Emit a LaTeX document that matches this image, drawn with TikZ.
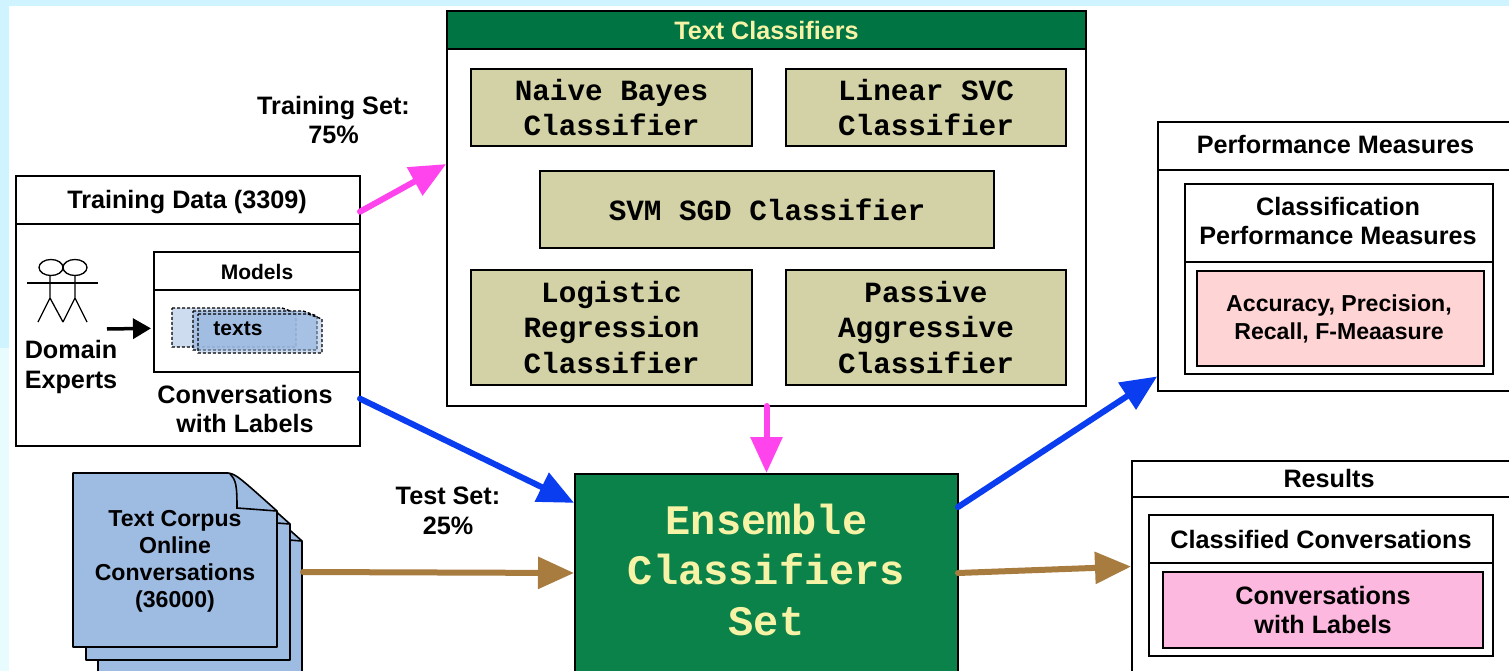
\documentclass[tikz,border=0pt]{standalone}
\usepackage{fontspec}
\setmainfont{Liberation Sans}
\setmonofont{Liberation Mono}
\usetikzlibrary{arrows.meta,shapes.geometric,positioning}
\definecolor{skyband}{HTML}{D0F4FF}
\definecolor{skypale}{HTML}{E8FBFF}
\definecolor{headgreen}{HTML}{007443}
\definecolor{ensgreen}{HTML}{0B8249}
\definecolor{paleyellow}{HTML}{F6F3A6}
\definecolor{khaki}{HTML}{D3D2A6}
\definecolor{paleblue}{HTML}{9EBBE2}
\definecolor{palered}{HTML}{FFD4D4}
\definecolor{palepink}{HTML}{FDB8DF}
\definecolor{arrowmag}{HTML}{FF44EE}
\definecolor{arrowblue}{HTML}{0A3CF0}
\definecolor{arrowbrown}{HTML}{A87C3E}
\begin{document}
\begin{tikzpicture}[x=1pt,y=-1pt,line width=1.6pt,
  every node/.style={inner sep=0pt,outer sep=0pt,align=center},
  frame/.style={draw,minimum width=#1,fill=white},
  sanslabel/.style={font=\fontsize{25.2}{29.5}\selectfont\bfseries},
  smalllabel/.style={font=\fontsize{21}{25}\selectfont\bfseries},
  clsbox/.style={draw,fill=khaki,font=\fontsize{29.3}{35.5}\selectfont\ttfamily\bfseries},
  flow/.style={line width=6pt,line cap=round,-{Triangle[length=36pt,width=31pt]},shorten >=1pt}]
\useasboundingbox (0,0) rectangle (1509,671);
\fill[skyband] (0,0) rectangle (1509,671);
\fill[skypale] (0,348) rectangle (9,671);
\fill[white] (9,6) rectangle (1509,671);
% training data
\node[frame=344pt,minimum height=270pt] (train) at (188,311) {};
\node[draw,minimum width=344pt,minimum height=48pt] (trainhead) at (188,200) {};
\node[sanslabel] (traintitle) at (187,202) {Training Data (3309)};
\node[frame=206pt,minimum height=120pt] (models) at (257,312) {};
\node[draw,minimum width=206pt,minimum height=38pt] (modelshead) at (257,271) {};
\node[smalllabel] (modelstitle) at (257,272) {Models};
\node[sanslabel] (experts) at (71,367) {Domain\\Experts};
\node[sanslabel] (trainlabels) at (245,409) {Conversations\\with Labels};
\begin{scope}[line width=1.3pt]
\draw (51,267.5) ellipse (12pt and 8pt);
\draw (75,267.5) ellipse (12pt and 8pt);
\draw (27,283) -- (98,283);
\draw (50,275) -- (50,298) (38,322) -- (50,298) -- (63,322);
\draw (75,275) -- (75,298) (63,322) -- (75,298) -- (87,322);
\end{scope}
\foreach \dx/\dy/\op in {0/0/0.5,21/3/0.8,26/6/0.5}{
  \draw[densely dashed,line width=1.4pt,fill=paleblue,fill opacity=\op]
    ([shift={(\dx,\dy)}]172,308) -- ++(110,0) -- ++(14,5) -- ++(0,34) -- ++(-124,0) -- cycle;
}
\node[smalllabel] (texts) at (238,329) {texts};
\coordinate (expertsout) at (107,329);
\draw[line width=3.5pt,-{Triangle[length=18pt,width=20pt]},shorten >=3pt] (expertsout) -- (models.189);
% classifiers
\node[frame=639pt,minimum height=395pt] (classifiers) at (766.5,208.5) {};
\node[draw,fill=headgreen,minimum width=639pt,minimum height=38pt,text=paleyellow,sanslabel] (clshead) at (766.5,30) {Text Classifiers};
\node[clsbox,minimum width=281pt,minimum height=77pt] (naive) at (611.5,107.5) {Naive Bayes\\Classifier};
\node[clsbox,minimum width=280pt,minimum height=77pt] (linear) at (926,107.5) {Linear SVC\\Classifier};
\node[clsbox,minimum width=454pt,minimum height=77pt] (sgd) at (767,209.5) {SVM SGD Classifier};
\node[clsbox,minimum width=281pt,minimum height=115pt] (logistic) at (611.5,327.5) {Logistic\\Regression\\Classifier};
\node[clsbox,minimum width=280pt,minimum height=115pt] (passive) at (926,327.5) {Passive\\Aggressive\\Classifier};
% corpus
\foreach \dx/\dy in {25/30,13/13,0/0}{
  \begin{scope}[shift={(\dx,\dy)}]
  \draw[fill=paleblue,line join=round] (73,473) -- (228,473) .. controls (236,474) and (240,478) .. (277,511) -- (277,647) -- (73,647) -- cycle;
  \draw (230,474) .. controls (236,480) and (237,485) .. (237,508) -- (277,511);
  \end{scope}
}
\node[font=\fontsize{23.1}{27}\selectfont\bfseries] (corpustext) at (175,561.5) {Text Corpus\\Online\\Conversations\\(36000)};
\node[minimum width=230pt,minimum height=198pt] (corpus) at (188,572) {};
% ensemble
\node[draw,fill=ensgreen,minimum width=383pt,minimum height=198pt] (ensemble) at (766.5,573) {};
\node[text=paleyellow,font=\fontsize{42}{50.5}\selectfont\ttfamily\bfseries] (enstitle) at (766.5,569.5) {Ensemble\\Classifiers\\Set};
% performance
\node[frame=354pt,minimum height=269pt] (perf) at (1335,256.5) {};
\node[draw,minimum width=354pt,minimum height=48pt] (perfhead) at (1335,146) {};
\node[sanslabel] (perftitle) at (1335.5,144) {Performance Measures};
\node[frame=308pt,minimum height=190pt] (classperf) at (1339,279) {};
\node[draw,minimum width=308pt,minimum height=78pt] (classperfhead) at (1339,223) {};
\node[sanslabel] (classperftitle) at (1338,221) {Classification\\Performance Measures};
\node[draw,fill=palered,minimum width=287pt,minimum height=95pt] (accuracy) at (1340.5,318.5) {};
\node[font=\fontsize{23.1}{28}\selectfont\bfseries] (accuracytext) at (1339,319) {Accuracy, Precision,\\Recall, F-Meaasure};
% results
\node[frame=383pt,minimum height=211pt] (results) at (1323.5,566.5) {};
\node[draw,minimum width=383pt,minimum height=36pt] (resultshead) at (1323.5,479) {};
\node[sanslabel] (resultstitle) at (1329,478) {Results};
\node[frame=344pt,minimum height=141pt] (classified) at (1321,585.5) {};
\node[frame=344pt,minimum height=48pt,sanslabel] (classifiedhead) at (1321,539) {Classified Conversations};
\node[draw,fill=palepink,minimum width=320pt,minimum height=76pt,sanslabel] (resultlabels) at (1323,610) {Conversations\\with Labels};
% set labels
\node[sanslabel] (trainset) at (333.5,120) {Training Set:\\75\%};
\node[sanslabel] (testset) at (448,511) {Test Set:\\25\%};
% flows
\draw[flow,arrowmag] (train.30) -- (classifiers.172);
\draw[flow,arrowblue] (train.-27) -- (ensemble.160);
\draw[flow,arrowbrown] (corpus.east) -- (ensemble.west);
\draw[flow,arrowmag] (classifiers.south) -- (ensemble.north);
\draw[flow,arrowblue] (ensemble.19) -- (perf.214);
\draw[flow,arrowbrown] (ensemble.east) -- (results.west);
\end{tikzpicture}
\end{document}
